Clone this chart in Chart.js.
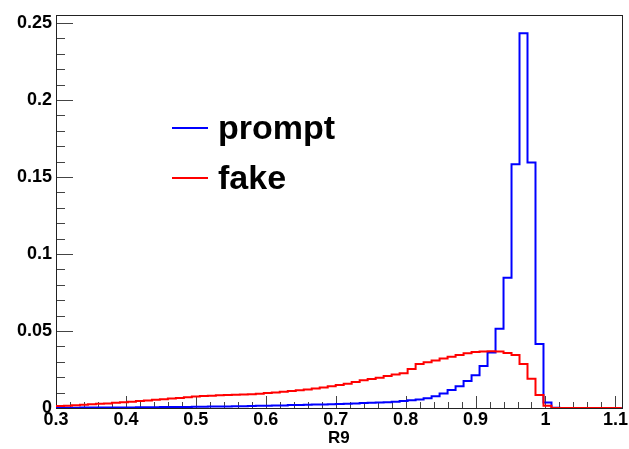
<!DOCTYPE html>
<html>
<head>
<meta charset="utf-8">
<script src="https://cdn.jsdelivr.net/npm/chart.js@4/dist/chart.umd.min.js"></script>
<style>
body{margin:0;background:#fff;}
canvas{display:block;}
</style>
</head>
<body>
<canvas id="c" width="629" height="449"></canvas>
<script>
// R9 histograms, 0.3 -> 1.1 in 70 bins (+1 empty overflow bin to frame edge)
const binLow=0.3;
const binWidth=0.8/70;
const xTicks=[0.3,0.4,0.5,0.6,0.7,0.8,0.9,1.0,1.1];
const yTicks=[0,0.05,0.1,0.15,0.2,0.25];
const seriesNames=["prompt","fake"];
const seriesColors=["#0000ff","#ff0000"];

const prompt=[
0.0002,0.0002,0.0002,0.0003,0.0003,0.0003,0.0003,0.0004,0.0004,0.0004,
0.0005,0.0005,0.0005,0.0006,0.0006,0.0007,0.0007,0.0008,0.0008,0.0009,
0.0010,0.0010,0.0011,0.0012,0.0013,0.0014,0.0015,0.0016,0.0017,0.0019,
0.0020,0.0021,0.0022,0.0023,0.0024,0.0026,0.0028,0.0030,0.0032,0.0034,
0.0036,0.0038,0.0041,0.0045,0.0050,0.0056,0.0064,0.0077,0.0094,0.0117,
0.0141,0.0175,0.0212,0.0272,0.0360,0.0515,0.0846,0.1583,0.2434,0.1594,
0.0415,0.0035,0.0002,0,0,0,0,0,0,0,
0];

const fake=[
0.0013,0.0015,0.0018,0.0021,0.0024,0.0027,0.0030,0.0034,0.0038,0.0041,
0.0045,0.0049,0.0053,0.0057,0.0061,0.0065,0.0069,0.0075,0.0078,0.0080,
0.0082,0.0084,0.0086,0.0088,0.0090,0.0093,0.0097,0.0101,0.0105,0.0110,
0.0115,0.0120,0.0126,0.0133,0.0141,0.0150,0.0158,0.0169,0.0180,0.0188,
0.0197,0.0207,0.0218,0.0226,0.0254,0.0286,0.0297,0.0308,0.0322,0.0333,
0.0344,0.0355,0.0363,0.0367,0.0368,0.0367,0.0357,0.0344,0.0286,0.0190,
0.0085,0.0015,0,0,0,0,0,0,0,0,
0];

function histPoints(vals){
  const pts=vals.map((v,k)=>({x:binLow+k*binWidth,y:v}));
  pts.push({x:binLow+vals.length*binWidth,y:vals[vals.length-1]});
  return pts;
}

const FONT='"Liberation Sans", Arial, Helvetica, sans-serif';

// ROOT style frame + inward ticks
const frameTicks={
  id:'frameTicks',
  beforeDatasetsDraw(chart){
    const {ctx,chartArea:a,scales:{x,y}}=chart;
    ctx.save();
    ctx.strokeStyle='#444';
    ctx.lineWidth=1;
    ctx.beginPath();
    for(let i=0;i<=40;i++){
      const px=Math.round(x.getPixelForValue(0.3+i*0.02))+0.5;
      const len=i%5===0?12:6;
      ctx.moveTo(px,a.bottom);ctx.lineTo(px,a.bottom-len);
    }
    for(let i=0;i<=25;i++){
      const py=Math.round(y.getPixelForValue(i*0.01))+0.5;
      const len=i%5===0?17:9;
      ctx.moveTo(a.left,py);ctx.lineTo(a.left+len,py);
    }
    ctx.stroke();
    ctx.strokeStyle='#222';
    ctx.strokeRect(Math.round(a.left)+0.5,Math.round(a.top)+0.5,Math.round(a.right-a.left),Math.round(a.bottom-a.top));
    ctx.restore();
  },
  afterDatasetsDraw(chart){
    const ctx=chart.ctx;
    ctx.save();
    ctx.font='bold 34px '+FONT;
    ctx.textBaseline='middle';
    ctx.fillStyle='#000';
    const ys=[128,178];
    chart.data.datasets.forEach((ds,i)=>{
      ctx.strokeStyle=ds.borderColor;
      ctx.lineWidth=2;
      ctx.beginPath();ctx.moveTo(172,ys[i]);ctx.lineTo(208,ys[i]);ctx.stroke();
      ctx.fillText(ds.label,218,ys[i]+2);
    });
    ctx.restore();
  }
};

new Chart(document.getElementById('c'),{
  type:'line',
  data:{datasets:[
    {label:seriesNames[0],data:histPoints(prompt),borderColor:seriesColors[0],borderWidth:2,stepped:'before',pointRadius:0,fill:false,order:2},
    {label:seriesNames[1],data:histPoints(fake),borderColor:seriesColors[1],borderWidth:2,stepped:'before',pointRadius:0,fill:false,order:1}
  ]},
  options:{
    responsive:false,animation:false,devicePixelRatio:1,
    layout:{padding:{top:9,right:7,left:0,bottom:0}},
    plugins:{legend:{display:false},tooltip:{enabled:false}},
    scales:{
      x:{type:'linear',min:0.3,max:1.109,
        afterFit(s){s.height=41;},
        afterBuildTicks(s){s.ticks=xTicks.map(v=>({value:v}));},
        grid:{display:false,drawTicks:false},border:{display:false},
        ticks:{padding:1,color:'#000',maxRotation:0,autoSkip:false,font:{family:FONT,size:18,weight:'bold'},callback:v=>String(+v.toFixed(1))},
        title:{display:true,text:'R9',color:'#000',font:{family:FONT,size:17,weight:'bold'},padding:{top:0,bottom:0}}
      },
      y:{type:'linear',min:0,max:0.2553,
        afterFit(s){s.width=56;},
        afterBuildTicks(s){s.ticks=yTicks.map(v=>({value:v}));},
        grid:{display:false,drawTicks:false},border:{display:false},
        ticks:{padding:4,color:'#000',font:{family:FONT,size:18,weight:'bold'},callback:v=>String(+v.toFixed(2))}
      }
    }
  },
  plugins:[frameTicks]
});
</script>
</body>
</html>
